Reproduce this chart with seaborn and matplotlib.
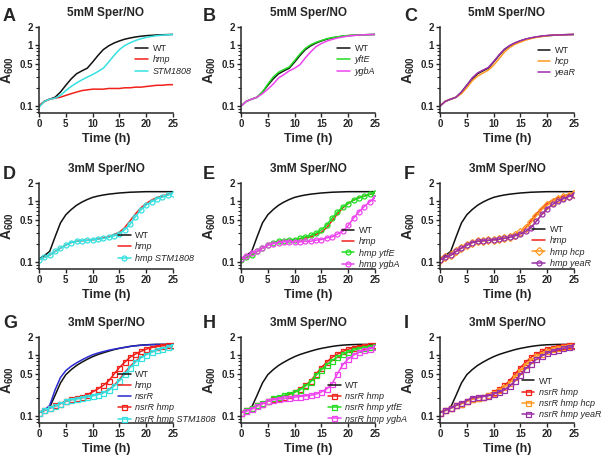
import matplotlib
matplotlib.use('Agg')
import matplotlib.pyplot as plt
import matplotlib.ticker as mticker
import seaborn as sns

hours = list(range(26))

# 5mM Sper/NO (row 1)
wt_5 = [0.10, 0.12, 0.13, 0.14, 0.17, 0.22, 0.28, 0.34, 0.38, 0.42, 0.53, 0.68, 0.85, 0.98, 1.09, 1.18, 1.26, 1.32, 1.37, 1.41, 1.44, 1.46, 1.48, 1.49, 1.50, 1.51]
hmp_5 = [0.10, 0.12, 0.13, 0.135, 0.14, 0.15, 0.16, 0.17, 0.18, 0.185, 0.19, 0.19, 0.19, 0.195, 0.195, 0.195, 0.20, 0.20, 0.205, 0.205, 0.21, 0.215, 0.22, 0.22, 0.225, 0.225]
stm1808_5 = [0.095, 0.12, 0.13, 0.135, 0.15, 0.18, 0.21, 0.24, 0.27, 0.30, 0.33, 0.37, 0.42, 0.53, 0.68, 0.85, 0.99, 1.10, 1.20, 1.28, 1.35, 1.40, 1.44, 1.47, 1.49, 1.51]
ytfe_5 = [0.10, 0.12, 0.13, 0.14, 0.17, 0.23, 0.30, 0.36, 0.40, 0.44, 0.56, 0.72, 0.89, 1.02, 1.12, 1.20, 1.28, 1.34, 1.38, 1.42, 1.45, 1.47, 1.48, 1.49, 1.50, 1.51]
ygba_5 = [0.10, 0.12, 0.13, 0.14, 0.16, 0.19, 0.23, 0.29, 0.33, 0.38, 0.42, 0.48, 0.62, 0.78, 0.95, 1.07, 1.17, 1.25, 1.32, 1.37, 1.42, 1.45, 1.47, 1.49, 1.50, 1.51]
hcp_5 = [0.10, 0.12, 0.13, 0.14, 0.16, 0.20, 0.26, 0.31, 0.35, 0.39, 0.47, 0.60, 0.77, 0.92, 1.04, 1.13, 1.22, 1.29, 1.35, 1.39, 1.43, 1.46, 1.48, 1.49, 1.50, 1.51]
year_5 = [0.10, 0.12, 0.13, 0.14, 0.17, 0.22, 0.29, 0.35, 0.39, 0.43, 0.54, 0.69, 0.86, 0.99, 1.10, 1.19, 1.27, 1.33, 1.38, 1.42, 1.45, 1.47, 1.48, 1.49, 1.50, 1.51]

# 3mM Sper/NO (row 2)
wt_3 = [0.113, 0.128, 0.15, 0.26, 0.44, 0.60, 0.73, 0.86, 0.97, 1.07, 1.16, 1.22, 1.27, 1.31, 1.34, 1.37, 1.39, 1.41, 1.42, 1.43, 1.44, 1.44, 1.44, 1.44, 1.44, 1.44]
hmp_3 = [0.11, 0.12, 0.13, 0.15, 0.17, 0.19, 0.21, 0.22, 0.225, 0.228, 0.232, 0.24, 0.25, 0.26, 0.285, 0.31, 0.37, 0.48, 0.62, 0.78, 0.92, 1.05, 1.15, 1.22, 1.30, 1.37]
hmp_stm1808_3 = [0.11, 0.12, 0.13, 0.15, 0.17, 0.19, 0.21, 0.22, 0.225, 0.228, 0.232, 0.238, 0.245, 0.255, 0.27, 0.295, 0.34, 0.42, 0.56, 0.72, 0.87, 0.98, 1.10, 1.17, 1.26, 1.34]
hmp_ytfe_3 = [0.11, 0.12, 0.13, 0.15, 0.17, 0.19, 0.21, 0.22, 0.225, 0.23, 0.235, 0.245, 0.26, 0.275, 0.30, 0.34, 0.41, 0.53, 0.67, 0.81, 0.92, 1.04, 1.13, 1.21, 1.30, 1.39]
hmp_ygba_3 = [0.113, 0.125, 0.14, 0.15, 0.17, 0.19, 0.20, 0.21, 0.215, 0.215, 0.215, 0.215, 0.22, 0.22, 0.23, 0.235, 0.25, 0.26, 0.29, 0.32, 0.40, 0.53, 0.67, 0.82, 0.98, 1.15]
hmp_hcp_3 = [0.11, 0.12, 0.13, 0.15, 0.17, 0.19, 0.21, 0.22, 0.225, 0.228, 0.232, 0.24, 0.25, 0.26, 0.28, 0.31, 0.36, 0.45, 0.58, 0.73, 0.86, 0.98, 1.08, 1.16, 1.24, 1.31]
hmp_year_3 = [0.11, 0.12, 0.13, 0.15, 0.17, 0.19, 0.21, 0.22, 0.225, 0.228, 0.232, 0.238, 0.245, 0.255, 0.27, 0.29, 0.32, 0.37, 0.47, 0.61, 0.76, 0.89, 1.00, 1.10, 1.19, 1.28]

# 3mM Sper/NO (row 3)
wt_3b = [0.114, 0.124, 0.14, 0.22, 0.35, 0.48, 0.58, 0.68, 0.77, 0.86, 0.95, 1.03, 1.10, 1.17, 1.24, 1.30, 1.35, 1.40, 1.44, 1.47, 1.49, 1.50, 1.51, 1.51, 1.51, 1.51]
hmp_3b = [0.114, 0.125, 0.135, 0.145, 0.16, 0.175, 0.185, 0.195, 0.20, 0.21, 0.22, 0.23, 0.245, 0.27, 0.32, 0.40, 0.52, 0.66, 0.80, 0.93, 1.05, 1.15, 1.23, 1.30, 1.36, 1.42]
nsrr_3 = [0.114, 0.125, 0.15, 0.27, 0.43, 0.56, 0.66, 0.75, 0.84, 0.93, 1.02, 1.09, 1.15, 1.21, 1.26, 1.31, 1.35, 1.40, 1.43, 1.46, 1.48, 1.50, 1.51, 1.51, 1.51, 1.51]
nsrr_hmp_3 = [0.114, 0.125, 0.135, 0.15, 0.16, 0.175, 0.19, 0.20, 0.21, 0.225, 0.25, 0.28, 0.32, 0.38, 0.49, 0.63, 0.77, 0.93, 1.05, 1.16, 1.26, 1.34, 1.39, 1.43, 1.46, 1.48]
nsrr_hmp_stm1808_3 = [0.114, 0.125, 0.135, 0.145, 0.16, 0.175, 0.185, 0.19, 0.20, 0.205, 0.215, 0.225, 0.24, 0.265, 0.31, 0.38, 0.49, 0.63, 0.77, 0.90, 1.02, 1.12, 1.21, 1.29, 1.36, 1.44]
nsrr_hmp_ytfe_3 = [0.114, 0.125, 0.135, 0.15, 0.165, 0.18, 0.195, 0.21, 0.22, 0.23, 0.245, 0.27, 0.31, 0.37, 0.47, 0.58, 0.70, 0.82, 0.94, 1.04, 1.13, 1.21, 1.28, 1.34, 1.39, 1.43]
nsrr_hmp_ygba_3 = [0.114, 0.12, 0.13, 0.145, 0.16, 0.175, 0.185, 0.19, 0.195, 0.20, 0.205, 0.21, 0.215, 0.22, 0.23, 0.25, 0.28, 0.34, 0.50, 0.70, 0.87, 1.00, 1.12, 1.20, 1.28, 1.35]
nsrr_hmp_hcp_3 = [0.114, 0.125, 0.135, 0.15, 0.16, 0.175, 0.19, 0.20, 0.21, 0.22, 0.24, 0.265, 0.30, 0.35, 0.44, 0.56, 0.70, 0.84, 0.96, 1.07, 1.17, 1.25, 1.31, 1.36, 1.40, 1.44]
nsrr_hmp_year_3 = [0.114, 0.125, 0.135, 0.15, 0.165, 0.18, 0.20, 0.205, 0.21, 0.215, 0.23, 0.25, 0.27, 0.31, 0.38, 0.48, 0.60, 0.73, 0.86, 0.98, 1.08, 1.17, 1.24, 1.30, 1.35, 1.40]

BLACK, RED, CYAN, GREEN = '#111111', '#f0201a', '#35e0e0', '#22dd22'
MAGENTA, ORANGE, PURPLE, BLUE = '#ee44ee', '#ff9922', '#9a2fa8', '#2a2ad0'

panels = [
    ('A', '5mM Sper/NO', (0.72, 0.80), [('WT', wt_5, BLACK, None), ('hmp', hmp_5, RED, None), ('STM1808', stm1808_5, CYAN, None)]),
    ('B', '5mM Sper/NO', (0.72, 0.80), [('WT', wt_5, BLACK, None), ('yftE', ytfe_5, GREEN, None), ('ygbA', ygba_5, MAGENTA, None)]),
    ('C', '5mM Sper/NO', (0.73, 0.78), [('WT', wt_5, BLACK, None), ('hcp', hcp_5, ORANGE, None), ('yeaR', year_5, PURPLE, None)]),
    ('D', '3mM Sper/NO', (0.59, 0.44), [('WT', wt_3, BLACK, None), ('hmp', hmp_3, RED, None), ('hmp STM1808', hmp_stm1808_3, CYAN, 'o')]),
    ('E', '3mM Sper/NO', (0.75, 0.50), [('WT', wt_3, BLACK, None), ('hmp', hmp_3, RED, None), ('hmp ytfE', hmp_ytfe_3, GREEN, 'o'), ('hmp ygbA', hmp_ygba_3, MAGENTA, 'o')]),
    ('F', '3mM Sper/NO', (0.69, 0.51), [('WT', wt_3, BLACK, None), ('hmp', hmp_3, RED, None), ('hmp hcp', hmp_hcp_3, ORANGE, 'D'), ('hmp yeaR', hmp_year_3, PURPLE, 'o')]),
    ('G', '3mM Sper/NO', (0.59, 0.62), [('WT', wt_3b, BLACK, None), ('hmp', hmp_3b, RED, None), ('nsrR', nsrr_3, BLUE, None), ('nsrR hmp', nsrr_hmp_3, RED, 's'), ('nsrR hmp STM1808', nsrr_hmp_stm1808_3, CYAN, 's')]),
    ('H', '3mM Sper/NO', (0.65, 0.49), [('WT', wt_3b, BLACK, None), ('nsrR hmp', nsrr_hmp_3, RED, 's'), ('nsrR hmp ytfE', nsrr_hmp_ytfe_3, GREEN, 's'), ('nsrR hmp ygbA', nsrr_hmp_ygba_3, MAGENTA, 's')]),
    ('I', '3mM Sper/NO', (0.61, 0.54), [('WT', wt_3b, BLACK, None), ('nsrR hmp', nsrr_hmp_3, RED, 's'), ('nsrR hmp hcp', nsrr_hmp_hcp_3, ORANGE, 's'), ('nsrR hmp yeaR', nsrr_hmp_year_3, PURPLE, 's')]),
]

sns.set_style('ticks')
plt.rcParams['font.family'] = ['Liberation Sans', 'DejaVu Sans']
plt.rcParams['mathtext.fontset'] = 'custom'
plt.rcParams['mathtext.rm'] = 'Liberation Sans'
plt.rcParams['mathtext.bf'] = 'Liberation Sans:bold'
plt.rcParams['mathtext.it'] = 'Liberation Sans:italic'

W, H = 601, 459
fig = plt.figure(figsize=(W / 100, H / 100), dpi=100)

lefts = [39, 241, 440]
tops = [27, 183, 337]
letter_x = [3, 203, 404]
letter_top = [8, 166, 315]

for i, (letter, title, anchor, series) in enumerate(panels):
    r, c = divmod(i, 3)
    ax = fig.add_axes([lefts[c] / W, 1 - (tops[r] + 86) / H, 134 / W, 86 / H])
    ax.set_yscale('log')
    for lab, vals, col, mk in series:
        sns.lineplot(x=hours, y=vals, ax=ax, color=col, lw=1.1, marker=mk,
                     markersize=3.6, markerfacecolor='none', markeredgecolor=col,
                     markeredgewidth=0.9, label=lab)
    ax.set_xlim(0, 25)
    ax.set_ylim(0.077, 2)
    ax.set_xticks([0, 5, 10, 15, 20, 25])
    ax.yaxis.set_major_locator(mticker.FixedLocator([0.1, 0.5, 1, 2]))
    ax.yaxis.set_major_formatter(mticker.FixedFormatter(['0.1', '0.5', '1', '2']))
    ax.yaxis.set_minor_locator(mticker.LogLocator(base=10, subs=[2, 3, 4, 5, 6, 7, 8, 9]))
    ax.yaxis.set_minor_formatter(mticker.NullFormatter())
    ax.tick_params(axis='both', which='major', direction='out', length=3, width=1,
                   labelsize=7, pad=1.5)
    ax.tick_params(axis='y', which='minor', direction='out', length=2, width=0.8)
    for lbl in ax.get_xticklabels() + ax.get_yticklabels():
        lbl.set_fontweight('bold')
    sns.despine(ax=ax)
    for s in ['left', 'bottom']:
        ax.spines[s].set_linewidth(1.1)
    ax.set_title(title, fontsize=8.5, fontweight='bold', pad=8)
    ax.set_xlabel('Time (h)', fontsize=9, fontweight='bold', labelpad=3)
    ax.set_ylabel(r'$\mathbf{A_{600}}$', fontsize=10)
    ax.yaxis.set_label_coords(-0.17, 0.5)
    leg = ax.legend(loc='upper left', bbox_to_anchor=anchor, frameon=False,
                    fontsize=6.5, handlelength=1.4, handletextpad=0.5,
                    labelspacing=0.25, borderpad=0, borderaxespad=0)
    for t in leg.get_texts():
        if t.get_text() != 'WT':
            t.set_fontstyle('italic')
    fig.text(letter_x[c] / W, 1 - letter_top[r] / H, letter, fontsize=13,
             fontweight='bold', va='top', ha='left')

fig.savefig('out.png', dpi=100)
